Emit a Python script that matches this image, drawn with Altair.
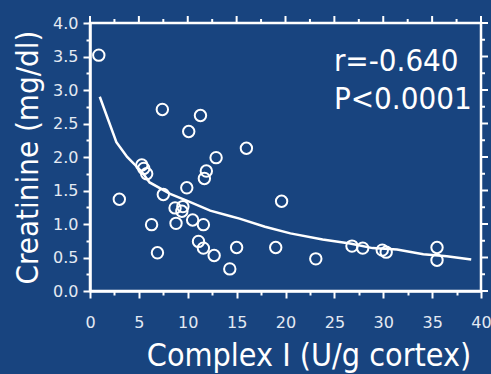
import altair as alt
import pandas as pd

# Scatter data: Complex I (U/g cortex) vs creatinine (mg/dl)
complex_i = [0.9, 3.0, 5.3, 5.5, 5.8, 6.3, 6.9, 7.4, 7.5, 8.8, 8.7, 9.5, 9.4, 9.9,
             10.1, 10.5, 11.3, 11.1, 11.6, 11.6, 11.7, 11.9, 12.7, 12.9, 14.3, 15.0,
             16.0, 19.0, 19.6, 23.1, 26.8, 27.9, 29.9, 30.3, 35.5, 35.5]
creatinine = [3.52, 1.37, 1.88, 1.83, 1.75, 0.99, 0.57, 2.71, 1.44, 1.01, 1.24, 1.26, 1.19, 1.54,
              2.38, 1.06, 2.62, 0.74, 0.99, 0.64, 1.68, 1.79, 0.53, 1.99, 0.33, 0.65,
              2.13, 0.65, 1.34, 0.48, 0.67, 0.64, 0.61, 0.58, 0.65, 0.46]

# Fitted curve
fit_x = [1.0, 1.7, 2.7, 3.8, 5.3, 6.1, 8.2, 10.2, 12.3, 14.3, 15.3, 17.9, 20.5,
         23.8, 26.6, 28.9, 31.4, 34.1, 36.5, 39.0]
fit_y = [2.90, 2.62, 2.22, 2.00, 1.78, 1.62, 1.45, 1.33, 1.20, 1.12, 1.08, 0.96, 0.86,
         0.77, 0.71, 0.64, 0.62, 0.55, 0.52, 0.47]

# Annotation
note_text = ["r=-0.640", "P<0.0001"]
note_x = [24.95, 24.95]
note_y = [3.28, 2.72]

# Tick values
x_major = [0, 5, 10, 15, 20, 25, 30, 35, 40]
x_minor = [2.5, 7.5, 12.5, 17.5, 22.5, 27.5, 32.5, 37.5]
y_major = [0.0, 0.5, 1.0, 1.5, 2.0, 2.5, 3.0, 3.5, 4.0]
y_minor = [0.25, 0.75, 1.25, 1.75, 2.25, 2.75, 3.25, 3.75]
x_ticks = sorted(x_major + x_minor)
y_ticks = sorted(y_major + y_minor)

pts = pd.DataFrame({"x": complex_i, "y": creatinine})
fit = pd.DataFrame({"x": fit_x, "y": fit_y})
notes = pd.DataFrame({"x": note_x, "y": note_y, "t": note_text})

BG = "#18447f"
WHITE = "#ffffff"
LABEL = "#e4eaf3"
TITLE_FONT = "DejaVu Sans Condensed"

xscale = alt.Scale(domain=[0, 40], nice=False, zero=False)
yscale = alt.Scale(domain=[0, 4], nice=False, zero=False)

tick_size_x = {"condition": {"test": "datum.value % 5 === 0", "value": 7}, "value": 4}
tick_size_y = {"condition": {"test": "datum.value % 0.5 === 0", "value": 7}, "value": 4}

x_axis = alt.Axis(
    orient="bottom", values=x_ticks, tickSize=tick_size_x, labelFlush=False,
    labelOverlap=False,
    labelExpr="datum.value % 5 === 0 ? format(datum.value, 'd') : ''",
    labelPadding=16, labelFontSize=16, labelColor=LABEL, labelFont="DejaVu Sans",
    title="Complex I (U/g cortex)", titleFont=TITLE_FONT, titleFontSize=32,
    titleFontWeight="normal", titleColor=WHITE, titleX=218.5, titleY=74,
    titleAlign="center", titleBaseline="alphabetic", titleAngle=0,
)
y_axis = alt.Axis(
    orient="left", values=y_ticks, tickSize=tick_size_y, labelFlush=False,
    labelOverlap=False,
    labelExpr="datum.value % 0.5 === 0 ? format(datum.value, '.1f') : ''",
    labelPadding=5, labelFontSize=16, labelColor=LABEL, labelFont="DejaVu Sans",
    title="Creatinine (mg/dl)", titleFont=TITLE_FONT, titleFontSize=31,
    titleFontWeight="normal", titleColor=WHITE, titleX=-53, titleY=134,
    titleAlign="center", titleBaseline="alphabetic", titleAngle=270,
)

def X(field="x"):
    return alt.X(f"{field}:Q", scale=xscale, axis=x_axis, title="Complex I (U/g cortex)")

def Y(field="y"):
    return alt.Y(f"{field}:Q", scale=yscale, axis=y_axis, title="Creatinine (mg/dl)")

points = alt.Chart(pts).mark_point(
    shape="circle", filled=False, color=WHITE, size=130, strokeWidth=2, opacity=1,
    clip=False,
).encode(x=X(), y=Y())

line = alt.Chart(fit).mark_line(color=WHITE, strokeWidth=2.5, clip=False).encode(x=X(), y=Y())

text = alt.Chart(notes).mark_text(
    font=TITLE_FONT, fontSize=31, color=WHITE, align="left", baseline="alphabetic",
    clip=False,
).encode(x=X(), y=Y(), text="t:N")

# Ticks on the top and right edges of the frame
def top_ticks(vals, length):
    return alt.Chart(pd.DataFrame({"x": vals})).mark_tick(
        color=WHITE, orient="vertical", size=length, thickness=2, opacity=1, clip=False
    ).encode(x=X(), y=alt.value(-length / 2))

def right_ticks(vals, length):
    return alt.Chart(pd.DataFrame({"y": vals})).mark_tick(
        color=WHITE, orient="horizontal", size=length, thickness=2, opacity=1, clip=False
    ).encode(y=Y(), x=alt.value(391 + length / 2))

chart = alt.layer(
    top_ticks(x_major, 7), top_ticks(x_minor, 4),
    right_ticks(y_major, 7), right_ticks(y_minor, 4),
    points, line, text,
).properties(
    width=391, height=268, background=BG,
    autosize=alt.AutoSizeParams(type="none"),
    padding={"left": 90, "top": 23, "right": 10, "bottom": 83},
).configure_view(stroke=WHITE, strokeWidth=2.5).configure_axis(
    grid=False, domainColor=WHITE, domainWidth=2.5, tickColor=WHITE, tickWidth=2,
)

chart.save("out.html", embed_options={"renderer": "svg", "actions": False})
